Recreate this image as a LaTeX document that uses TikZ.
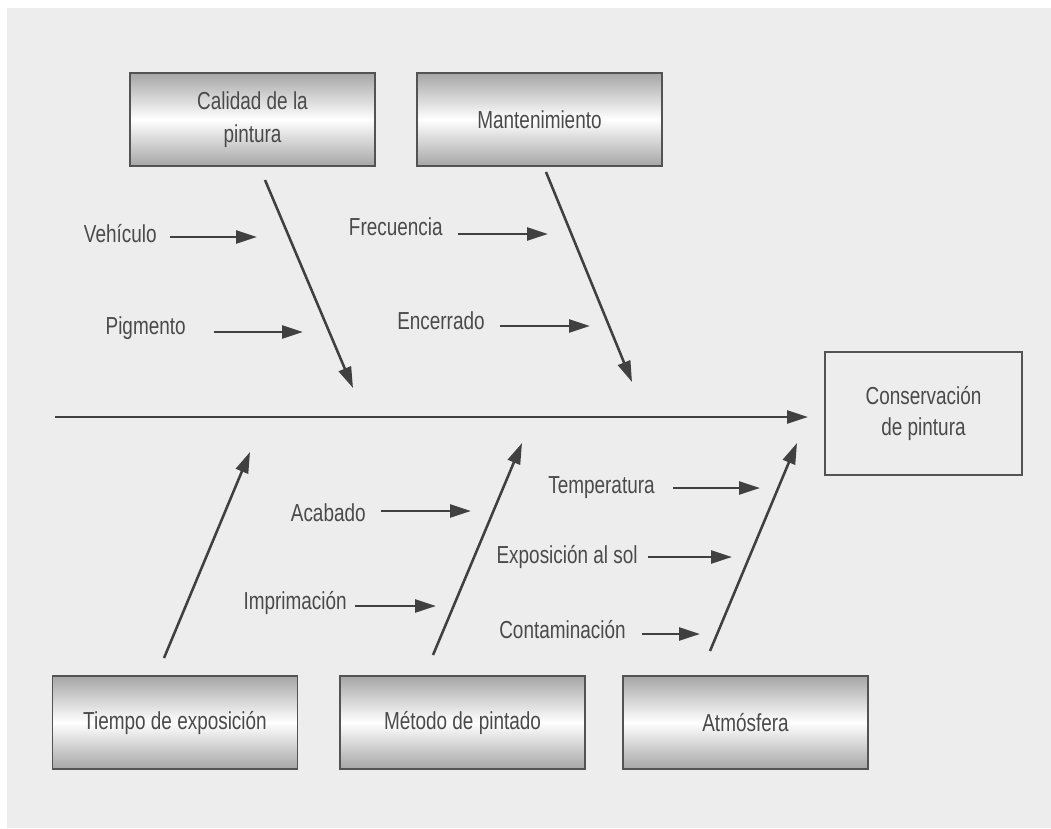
\documentclass[tikz,border=0pt]{standalone}
\usepackage{fontspec}
\setmainfont{Liberation Sans}[FakeStretch=0.77]
\usepackage{tikz}
\usetikzlibrary{arrows.meta,positioning,calc}
\definecolor{bg}{HTML}{EDEDED}
\definecolor{ink}{HTML}{404040}
\definecolor{txt}{HTML}{4A4A4A}
\tikzset{
  cause/.style={rectangle,draw=ink!90,line width=1.1pt,top color=gray!70,bottom color=gray!70,middle color=white,minimum width=4.9cm,minimum height=1.86cm,align=center,text=txt,font=\fontsize{14}{18.8}\selectfont},
  eff/.style={rectangle,draw=ink!90,line width=0.9pt,fill=bg,minimum width=3.94cm,minimum height=2.46cm,align=center,text=txt,font=\fontsize{14}{17.5}\selectfont},
  lbl/.style={inner sep=0pt,anchor=east,text=txt,text height=1.6ex,text depth=0.3ex,font=\fontsize{14}{16}\selectfont},
  arr/.style={-{Triangle[length=0.42cm,width=0.26cm]},draw=ink,line width=1.45pt},
}

\begin{document}
\begin{tikzpicture}[x=0.02cm,y=-0.02cm]
  \useasboundingbox (0,0) rectangle (1051,828);
  \fill[bg] (7,8) rectangle (1051,828);

  % causes
  \node[cause] (cal) at (252.5,119.5) {Calidad de la\\pintura};
  \node[cause] (man) at (539.5,119.5) {Mantenimiento};
  \node[cause] (tie) at (175,722.5) {Tiempo de exposición};
  \node[cause] (met) at (462.5,722.5) {Método de pintado};
  \node[cause] (atm) at (745.5,722.5) {Atmósfera};
  \node[eff] (con) at (923.5,413.5) {Conservación\\de pintura};

  % spine and bones
  \coordinate (s0) at (55,417);
  \coordinate (s1) at (808,417);
  \draw[arr] (s0) -- (s1);
  \coordinate (cal0) at (265,180);   \coordinate (cal1) at (353,388);
  \coordinate (man0) at (546,172);   \coordinate (man1) at (632,382);
  \coordinate (tie0) at (164,658);   \coordinate (tie1) at (250,452);
  \coordinate (met0) at (433,655);   \coordinate (met1) at (522,443);
  \coordinate (atm0) at (710,651);   \coordinate (atm1) at (797,443);
  \draw[arr] (cal0) -- (cal1);
  \draw[arr] (man0) -- (man1);
  \draw[arr] (tie0) -- (tie1);
  \draw[arr] (met0) -- (met1);
  \draw[arr] (atm0) -- (atm1);

  % sub-causes
  \node[lbl] (veh) at (157,236) {Vehículo};
  \node[lbl] (pig) at (186,328) {Pigmento};
  \node[lbl] (fre) at (443,229) {Frecuencia};
  \node[lbl] (enc) at (485,323) {Encerrado};
  \node[lbl] (aca) at (366,515) {Acabado};
  \node[lbl] (imp) at (347,603) {Imprimación};
  \node[lbl] (tem) at (655,487) {Temperatura};
  \node[lbl] (exp) at (638,557) {Exposición al sol};
  \node[lbl] (cnt) at (626,632) {Contaminación};
  \draw[arr] (veh.east) ++(13,1) -- ++(87,0);
  \draw[arr] (pig.east) ++(28,4) -- ++(89,0);
  \draw[arr] (fre.east) ++(15,5) -- ++(90,0);
  \draw[arr] (enc.east) ++(15,3) -- ++(90,0);
  \draw[arr] (aca.east) ++(15,-4) -- ++(90,0);
  \draw[arr] (imp.east) ++(8,3) -- ++(81,0);
  \draw[arr] (tem.east) ++(18,1) -- ++(87,0);
  \draw[arr] (exp.east) ++(10,0) -- ++(84,0);
  \draw[arr] (cnt.east) ++(16,2) -- ++(58,0);
\end{tikzpicture}
\end{document}
